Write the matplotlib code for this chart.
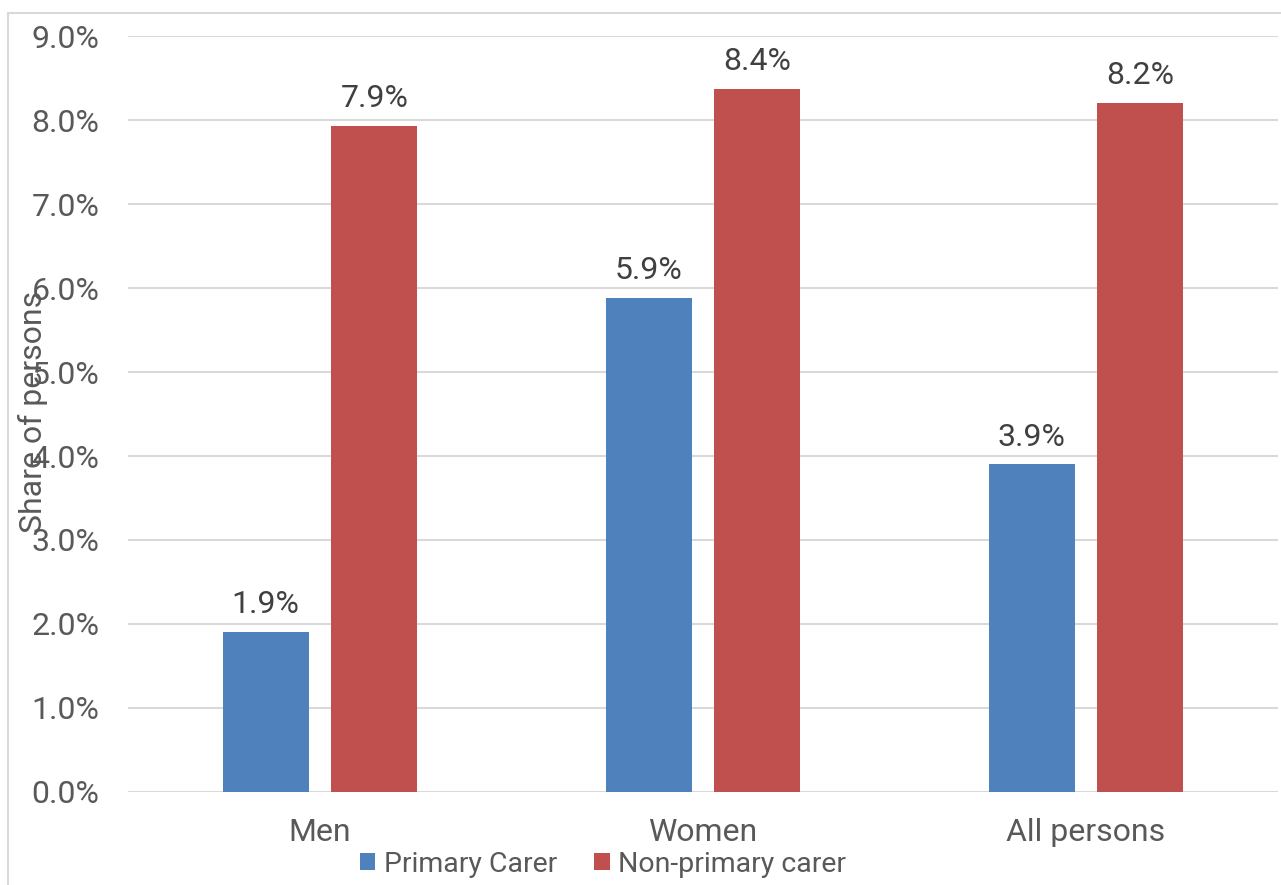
import matplotlib.pyplot as plt
import numpy as np
from matplotlib.patches import Rectangle

plt.rcParams['font.family'] = ['Roboto', 'DejaVu Sans']

categories = ["Men", "Women", "All persons"]
primary = [1.9, 5.88, 3.9]
non_primary = [7.93, 8.37, 8.2]
labels_primary = ["1.9%", "5.9%", "3.9%"]
labels_non_primary = ["7.9%", "8.4%", "8.2%"]

blue = '#4F81BD'
red = '#C0504D'

fig = plt.figure(figsize=(12.81, 8.85), dpi=100)
ax = fig.add_axes([0.1003, 0.1051, 0.8970, 0.8542])

x = np.arange(len(categories))
w = 0.2245
off = 0.142
b1 = ax.bar(x - off, primary, w, color=blue, label="Primary Carer", zorder=3)
b2 = ax.bar(x + off, non_primary, w, color=red, label="Non-primary carer", zorder=3)

# etiquettes au-dessus des barres
for bars, labs in ((b1, labels_primary), (b2, labels_non_primary)):
    for rect, lab in zip(bars, labs):
        ax.text(rect.get_x() + rect.get_width() / 2, rect.get_height() + 0.225, lab,
                ha='center', va='baseline', fontsize=23, color='#404040')

ax.set_xlim(-0.5, 2.5)
ax.set_ylim(0, 9)
ax.set_yticks(np.arange(0, 9.1, 1))
ax.set_yticklabels([f"{v:.1f}%" for v in np.arange(0, 9.1, 1)])
ax.set_xticks(x)
ax.set_xticklabels(categories)
ax.tick_params(axis='y', length=0, pad=21, labelsize=23, labelcolor='#595959')
ax.tick_params(axis='x', length=0, pad=19, labelsize=23, labelcolor='#595959')
ax.yaxis.grid(True, color='#D9D9D9', linewidth=1.5, zorder=0)
for s in ax.spines.values():
    s.set_visible(False)

fig.text(33 / 1281, 1 - 412 / 885, "Share of persons", rotation=90,
         ha='center', va='center', fontsize=23, color='#595959')

fig.legend(loc='center', bbox_to_anchor=(603 / 1281, 1 - 864 / 885), ncol=2, frameon=False,
           fontsize=20.5, labelcolor='#595959', handlelength=0.55, handleheight=0.55,
           handletextpad=0.3, columnspacing=1.3)

fig.patches.append(Rectangle((8 / 1281, -0.05), 1.1, 1 - 13 / 885 + 0.05,
                             transform=fig.transFigure, fill=False,
                             edgecolor='#D9D9D9', linewidth=1.5))

fig.savefig("out.png", dpi=100)
